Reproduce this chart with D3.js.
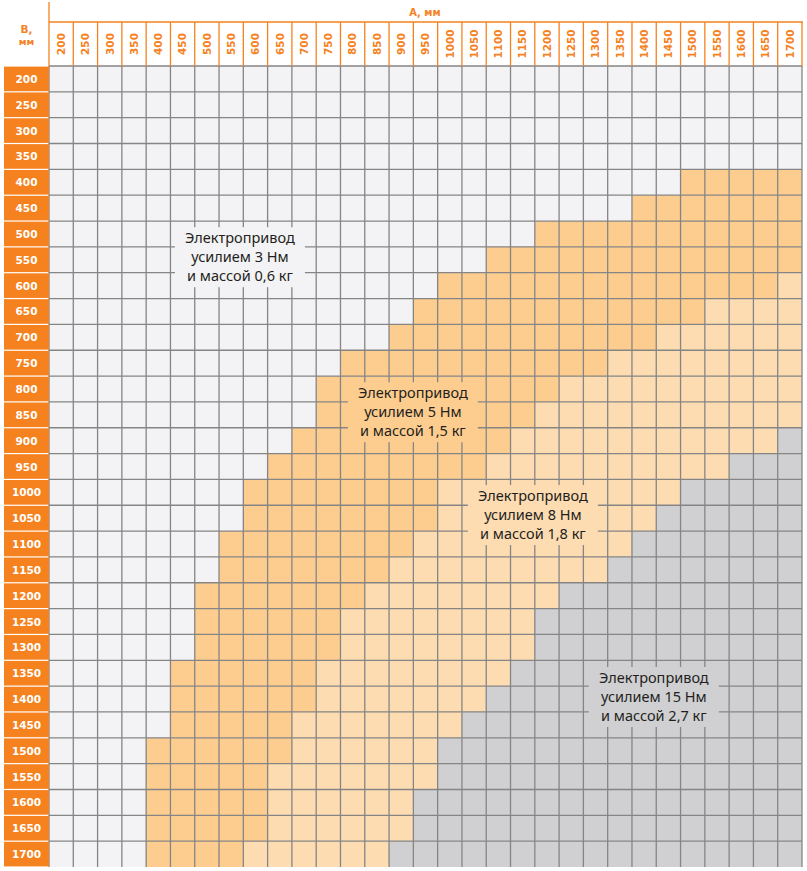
<!DOCTYPE html>
<html>
<head>
<meta charset="utf-8">
<script src="https://cdn.jsdelivr.net/npm/d3@7"></script>
<style>
  html, body { margin: 0; padding: 0; background: #fff; }
  svg { display: block; }
</style>
</head>
<body>
<div id="chart"></div>
<script>
// размеры A (столбцы) и B (строки), мм
var colsA = [200, 250, 300, 350, 400, 450, 500, 550, 600, 650, 700, 750, 800, 850, 900, 950,
             1000, 1050, 1100, 1150, 1200, 1250, 1300, 1350, 1400, 1450, 1500, 1550, 1600, 1650, 1700];
var rowsB = [200, 250, 300, 350, 400, 450, 500, 550, 600, 650, 700, 750, 800, 850, 900, 950,
             1000, 1050, 1100, 1150, 1200, 1250, 1300, 1350, 1400, 1450, 1500, 1550, 1600, 1650, 1700];

// для каждой строки B: значение A, с которого начинается зона (null - нет зоны)
var start5 = [null, null, null, null, 1500, 1400, 1200, 1100, 1000, 950, 900, 800, 750, 750, 700, 650,
              600, 600, 550, 550, 500, 500, 500, 450, 450, 450, 400, 400, 400, 400, 400];
var start8 = [null, null, null, null, null, null, null, null, 1700, 1550, 1450, 1350, 1250, 1200, 1150, 1100,
              1000, 1000, 950, 900, 850, 800, 800, 750, 750, 700, 700, 650, 650, 650, 600];
var start15 = [null, null, null, null, null, null, null, null, null, null, null, null, null, null, 1700, 1600,
               1500, 1450, 1400, 1350, 1250, 1200, 1200, 1150, 1100, 1050, 1000, 1000, 950, 950, 900];

var zoneNames = ["3 Нм", "5 Нм", "8 Нм", "15 Нм"];
var zoneLabels = [
  ["Электропривод", "усилием 3 Нм", "и массой 0,6 кг"],
  ["Электропривод", "усилием 5 Нм", "и массой 1,5 кг"],
  ["Электропривод", "усилием 8 Нм", "и массой 1,8 кг"],
  ["Электропривод", "усилием 15 Нм", "и массой 2,7 кг"]
];
// центр подписи в координатах A, B (мм)
var labelA = [568, 924, 1171, 1420];
var labelB = [545, 845, 1044, 1396];

var zoneColors = ["#f3f3f5", "#fdcd8f", "#fddcb2", "#d0d0d2"];
var orange = "#f5821f";

var width = 807, height = 871,
    gridLeft = 49, gridRight = 802,
    gridTop = 66, gridBottom = 867;

var x = d3.scaleBand().domain(colsA).range([gridLeft, gridRight]);
var y = d3.scaleBand().domain(rowsB).range([gridTop, gridBottom]);
var xLin = d3.scaleLinear().domain([175, 1725]).range([gridLeft, gridRight]);
var yLin = d3.scaleLinear().domain([175, 1725]).range([gridTop, gridBottom]);

function zoneOf(i, a) {
  if (start15[i] != null && a >= start15[i]) return 3;
  if (start8[i] != null && a >= start8[i]) return 2;
  if (start5[i] != null && a >= start5[i]) return 1;
  return 0;
}

var cells = [];
rowsB.forEach(function(b, i) {
  colsA.forEach(function(a) {
    cells.push({ a: a, b: b, zone: zoneOf(i, a) });
  });
});

var svg = d3.select("#chart").append("svg")
    .attr("width", width)
    .attr("height", height);

// ячейки
svg.append("g")
  .selectAll("rect")
  .data(cells)
  .enter().append("rect")
    .attr("x", function(d) { return x(d.a); })
    .attr("y", function(d) { return y(d.b); })
    .attr("width", x.bandwidth())
    .attr("height", y.bandwidth())
    .attr("fill", function(d) { return zoneColors[d.zone]; });

// сетка
var grid = svg.append("g")
    .attr("stroke", "#858585")
    .attr("stroke-width", 1.3);

grid.selectAll("line.v")
  .data(colsA.concat(["end"]))
  .enter().append("line")
    .attr("x1", function(d) { return d === "end" ? gridRight : x(d); })
    .attr("x2", function(d) { return d === "end" ? gridRight : x(d); })
    .attr("y1", gridTop)
    .attr("y2", gridBottom);

grid.selectAll("line.h")
  .data(rowsB)
  .enter().append("line")
    .attr("x1", gridLeft)
    .attr("x2", gridRight)
    .attr("y1", function(d) { return y(d); })
    .attr("y2", function(d) { return y(d); });

// заголовок столбцов
var head = svg.append("g");

head.append("line")
    .attr("x1", gridLeft).attr("x2", gridLeft)
    .attr("y1", 2).attr("y2", gridTop)
    .attr("stroke", orange).attr("stroke-width", 1.3);

head.append("line")
    .attr("x1", gridLeft).attr("x2", gridRight + 1)
    .attr("y1", 22).attr("y2", 22)
    .attr("stroke", orange).attr("stroke-width", 1.3);

head.selectAll("line.sep")
  .data(colsA.slice(1).concat(["end"]))
  .enter().append("line")
    .attr("x1", function(d) { return d === "end" ? gridRight : x(d); })
    .attr("x2", function(d) { return d === "end" ? gridRight : x(d); })
    .attr("y1", 22).attr("y2", gridTop)
    .attr("stroke", orange).attr("stroke-width", 1.3);

head.selectAll("text.col")
  .data(colsA)
  .enter().append("text")
    .attr("transform", function(d) {
      return "translate(" + (x(d) + x.bandwidth() / 2 + 3.8) + ",44) rotate(-90)";
    })
    .attr("text-anchor", "middle")
    .attr("fill", orange)
    .style("font", "bold 10.5px 'DejaVu Sans'")
    .text(function(d) { return d; });

svg.append("text")
    .attr("x", 425).attr("y", 16)
    .attr("text-anchor", "middle")
    .attr("fill", orange)
    .style("font", "bold 10px 'DejaVu Sans'")
    .text("А, мм");

svg.append("text")
    .attr("x", 26.5).attr("y", 33)
    .attr("text-anchor", "middle")
    .attr("fill", orange)
    .style("font", "bold 10.5px 'DejaVu Sans'")
    .text("В,");

svg.append("text")
    .attr("x", 26.5).attr("y", 45)
    .attr("text-anchor", "middle")
    .attr("fill", orange)
    .style("font", "bold 9.5px 'DejaVu Sans'")
    .text("мм");

// заголовок строк
var rowHead = svg.append("g");

rowHead.selectAll("rect")
  .data(rowsB)
  .enter().append("rect")
    .attr("x", 4)
    .attr("y", function(d) { return y(d) + 0.6; })
    .attr("width", gridLeft - 4)
    .attr("height", y.bandwidth() - 1.2)
    .attr("fill", orange);

rowHead.selectAll("text")
  .data(rowsB)
  .enter().append("text")
    .attr("x", 26.5)
    .attr("y", function(d) { return y(d) + y.bandwidth() / 2 + 4; })
    .attr("text-anchor", "middle")
    .attr("fill", "#fff")
    .style("font", "bold 10.5px 'DejaVu Sans'")
    .text(function(d) { return d; });

// подписи зон
var labels = svg.append("g")
  .selectAll("g")
  .data(zoneLabels)
  .enter().append("g")
    .attr("transform", function(d, i) {
      return "translate(" + xLin(labelA[i]) + "," + yLin(labelB[i]) + ")";
    });

labels.append("rect")
    .attr("x", -65)
    .attr("y", -30)
    .attr("width", 130)
    .attr("height", 60)
    .attr("fill", function(d, i) { return zoneColors[i]; });

labels.selectAll("text")
  .data(function(d) { return d; })
  .enter().append("text")
    .attr("x", 0)
    .attr("y", function(d, k) { return (k - 1) * 19.2 + 5; })
    .attr("text-anchor", "middle")
    .attr("fill", "#231f20")
    .style("font", "14.5px 'Noto Sans'")
    .text(function(d) { return d; });
</script>
</body>
</html>
